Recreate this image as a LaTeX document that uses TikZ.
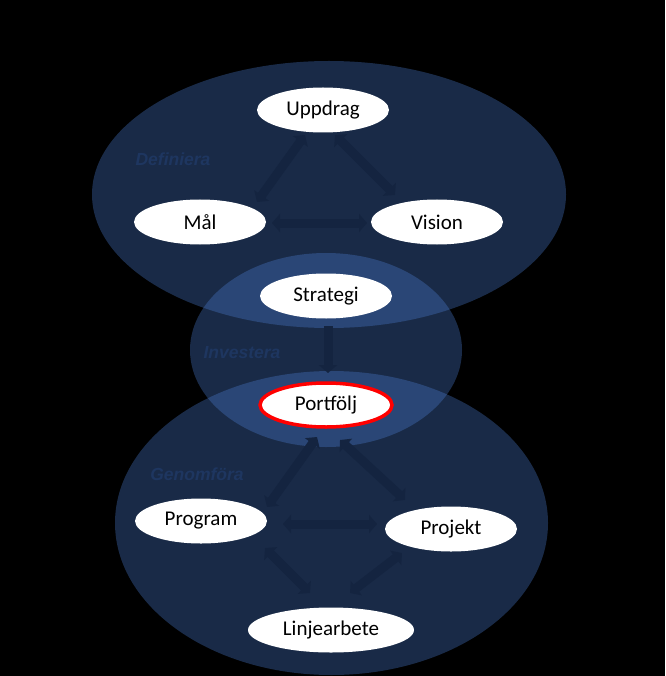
\documentclass[tikz,border=0pt]{standalone}
\usepackage{fontspec}
\setmainfont{Carlito}
\newfontfamily\labfont{Liberation Sans}
\usetikzlibrary{shapes.geometric,arrows.meta}
\definecolor{zonecol}{RGB}{74,123,206}
\definecolor{arrcol}{RGB}{20,36,64}
\definecolor{labcol}{RGB}{30,54,96}
\tikzset{
  zone/.style={fill=zonecol,fill opacity=0.35},
  box/.style={ellipse,fill=white,inner sep=0pt,minimum width=132pt,minimum height=45pt,
    font=\fontsize{21}{25}\selectfont,text=black},
  blk/.style={draw=arrcol,line width=9pt,{Triangle[length=8pt,width=18pt]}-{Triangle[length=8pt,width=18pt]}},
  blkone/.style={draw=arrcol,line width=9pt,-{Triangle[length=8pt,width=18pt]}},
  zonelab/.style={text=labcol,font=\labfont\bfseries\itshape\fontsize{17.5}{21}\selectfont}
}
\begin{document}
\begin{tikzpicture}[x=1pt,y=-1pt]
\fill[black] (0,0) rectangle (665,676);
\useasboundingbox (0,0) rectangle (665,676);
\fill[zone] (329,194.5) ellipse [x radius=237pt,y radius=133.5pt];
\fill[zone] (326,350) ellipse [x radius=136pt,y radius=97pt];
\fill[zone] (331.5,523) ellipse [x radius=216.5pt,y radius=152pt];

\node[zonelab] (ldef) at (173,159) {Definiera};
\node[zonelab] (linv) at (242,353) {Investera};
\node[zonelab] (lgen) at (197,474) {Genomföra};

\node[box] (upp) at (323,110) {Uppdrag};
\node[box] (mal) at (200,222) {Mål};
\node[box] (vis) at (437,222) {Vision};
\node[box] (str) at (326,296) {Strategi};
\node[box,draw=red,line width=3.5pt,minimum width=132pt,minimum height=44pt] (port) at (326,405) {Portfölj};
\node[box] (prog) at (201,521) {Program};
\node[box] (proj) at (451,529) {Projekt};
\node[box,minimum width=166pt] (lin) at (331,630) {Linjearbete};

\draw[blk] ([shift={(-18,25)}]upp.center) -- ([shift={(57,-20)}]mal.center);
\draw[blk] ([shift={(12,25)}]upp.center) -- ([shift={(-42,-27)}]vis.center);
\draw[blk] ([shift={(72,1)}]mal.center) -- ([shift={(-70,1)}]vis.center);
\draw[blkone] ([shift={(2,30)}]str.center) -- ([shift={(2,-32)}]port.center);
\draw[blk] ([shift={(-9,32)}]port.center) -- ([shift={(66,-14)}]prog.center);
\draw[blk] ([shift={(14,35)}]port.center) -- ([shift={(-46,-29)}]proj.center);
\draw[blk] ([shift={(82,3)}]prog.center) -- ([shift={(-74,-5)}]proj.center);
\draw[blk] ([shift={(64,27)}]prog.center) -- ([shift={(-21,-37)}]lin.center);
\draw[blk] ([shift={(-49,24)}]proj.center) -- ([shift={(19,-37)}]lin.center);
\end{tikzpicture}
\end{document}
